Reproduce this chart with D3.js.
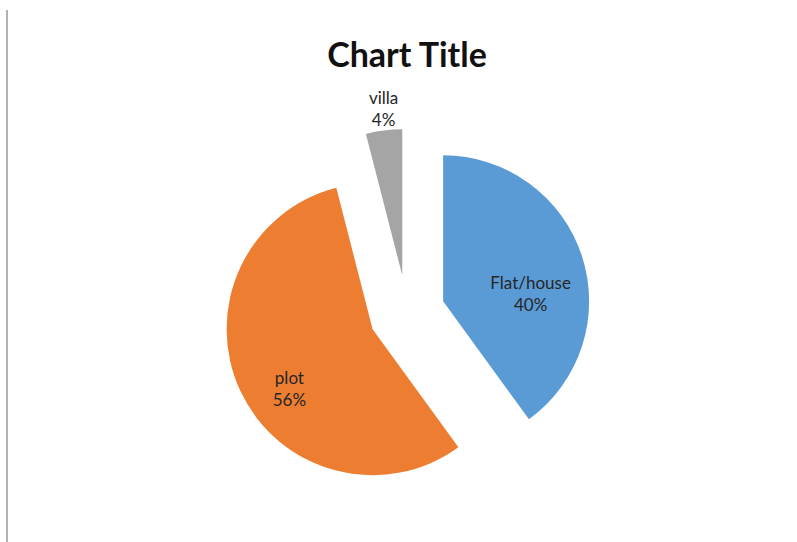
<!DOCTYPE html>
<html>
<head>
<meta charset="utf-8">
<script src="https://cdn.jsdelivr.net/npm/d3@7"></script>
<style>
  body { margin: 0; background: #fff; }
  text { font-family: Lato, "Open Sans", sans-serif; }
</style>
</head>
<body>
<div id="chart"></div>
<script>
// slice data, clockwise from 12 o'clock
var categories = ["Flat/house", "plot", "villa"];
var values = [40, 56, 4];
var percentLabels = ["40%", "56%", "4%"];
var colors = ["#5b9bd5", "#ed7d31", "#a5a5a5"];

var width = 797, height = 542;
var radius = 146;
var explode = 38;
var cx = 407, cy = 313;

var svg = d3.select("#chart").append("svg")
    .attr("width", width)
    .attr("height", height);

// thin grey rule down the left side
svg.append("line")
    .attr("x1", 7).attr("x2", 7)
    .attr("y1", 10).attr("y2", height)
    .attr("stroke", "#b3b3b3")
    .attr("stroke-width", 2);

svg.append("text")
    .attr("x", cx)
    .attr("y", 67)
    .attr("text-anchor", "middle")
    .attr("font-size", 34)
    .attr("font-weight", "bold")
    .attr("fill", "#111")
    .text("Chart Title");

var slices = categories.map(function(c, i) {
  return {name: c, value: values[i], pct: percentLabels[i], color: colors[i]};
});

var pie = d3.pie()
    .sort(null)
    .value(function(d) { return d.value; });

var arc = d3.arc().innerRadius(0).outerRadius(radius);

var g = svg.append("g").attr("transform", "translate(" + cx + "," + cy + ")");

var slice = g.selectAll("g.slice")
    .data(pie(slices))
    .enter().append("g")
      .attr("class", "slice")
      // every slice pulled out along its middle angle
      .attr("transform", function(d) {
        var a = (d.startAngle + d.endAngle) / 2;
        return "translate(" + explode * Math.sin(a) + "," + (-explode * Math.cos(a)) + ")";
      });

slice.append("path")
    .attr("d", arc)
    .attr("fill", function(d) { return d.data.color; });

// small slices get their label outside, big ones inside
slice.each(function(d) {
  var a = (d.startAngle + d.endAngle) / 2;
  var outside = d.data.value < 10;
  var r = outside ? radius * 1.02 : radius * 0.63;
  var x = r * Math.sin(a), y = -r * Math.cos(a);
  var lh = 22;
  var top = outside ? y - 2 * lh + 4 : y;
  var t = d3.select(this).append("text")
      .attr("text-anchor", "middle")
      .attr("font-size", 17)
      .attr("fill", "#262626");
  t.append("tspan").attr("x", x).attr("y", top + 16).text(d.data.name);
  t.append("tspan").attr("x", x).attr("y", top + 16 + lh).text(d.data.pct);
});
</script>
</body>
</html>
